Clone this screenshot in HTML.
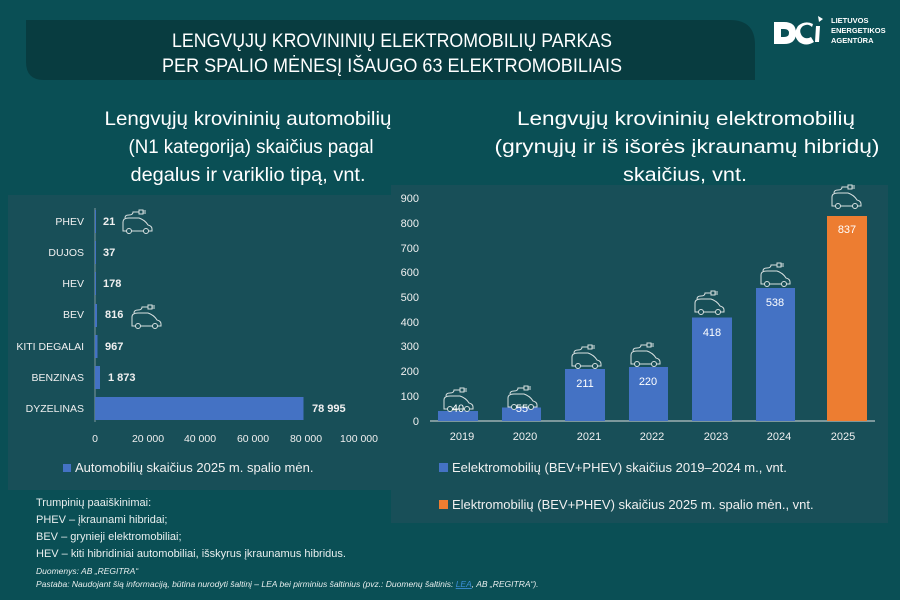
<!DOCTYPE html>
<html><head><meta charset="utf-8"><style>
body{margin:0;background:#0a4f55;}
svg{display:block;font-family:"Liberation Sans",sans-serif;}
</style></head><body>
<svg width="900" height="600" viewBox="0 0 900 600" xmlns="http://www.w3.org/2000/svg">
<defs>
<g id="car" fill="none" stroke="#d8e0e0" stroke-width="1">
<path d="M2 19 L2 10 Q2 6 8 6 L18 6 Q24 8 27 13 Q31 14 31 17 L31 19 Z"/>
<circle cx="8" cy="19" r="2.5" fill="#184f58"/><circle cx="25" cy="19" r="2.5" fill="#184f58"/>
<path d="M4 6 Q4 3 8 3 Q12 3 12 0 L18 0"/><rect x="18" y="-2" width="4" height="4"/><path d="M22 -1 L25 -1 M22 1 L25 1"/>
</g>
</defs>
<rect width="900" height="600" fill="#0a4f55"/>
<path d="M26 20 H730 Q755 20 755 45 V80 H44 Q26 80 26 62 Z" fill="#083c40"/>
<g fill="#fff" font-size="19" text-anchor="middle">
<text x="392" y="47" textLength="440" lengthAdjust="spacingAndGlyphs">LENGVŲJŲ KROVININIŲ ELEKTROMOBILIŲ PARKAS</text>
<text x="392" y="72" textLength="460" lengthAdjust="spacingAndGlyphs">PER SPALIO MĖNESĮ IŠAUGO 63 ELEKTROMOBILIAIS</text>
</g>
<g fill="#fff">
<path d="M774 22 h10 q12 0 12 11 q0 11 -12 11 h-10 z M781 29 v8 h3 q5 0 5 -4 q0 -4 -5 -4z" fill-rule="evenodd"/>
<path d="M812 27 q-4 -4 -9 -1 q-5 4 -1 10 q4 4 9 1 l3 5 q-8 5 -15 0 q-7 -7 -1 -16 q7 -6 15 -2 z"/>
<path d="M816 26 l4 0 l-1 16 l-4 0z"/><path d="M818 16 l5 3 l-4 3z"/>
<g font-size="7.5" font-weight="bold"><text x="831" y="23">LIETUVOS</text><text x="831" y="33">ENERGETIKOS</text><text x="831" y="43">AGENTŪRA</text></g>
</g>
<g fill="#fff" font-size="19.5" text-anchor="middle">
<text x="248" y="125" textLength="287" lengthAdjust="spacingAndGlyphs">Lengvųjų krovininių automobilių</text>
<text x="251" y="153" textLength="245" lengthAdjust="spacingAndGlyphs">(N1 kategorija) skaičius pagal</text>
<text x="248" y="181" textLength="235" lengthAdjust="spacingAndGlyphs">degalus ir variklio tipą, vnt.</text>
<text x="686" y="125" textLength="338" lengthAdjust="spacingAndGlyphs">Lengvųjų krovininių elektromobilių</text>
<text x="687" y="153" textLength="385" lengthAdjust="spacingAndGlyphs">(grynųjų ir iš išorės įkraunamų hibridų)</text>
<text x="685" y="181" textLength="124" lengthAdjust="spacingAndGlyphs">skaičius, vnt.</text>
</g>
<rect x="8" y="195" width="383" height="295" fill="#184f58"/>
<rect x="391" y="185" width="497" height="338" fill="#184f58"/>
<line x1="95" y1="208" x2="95" y2="422" stroke="#7f9aa0" stroke-width="1"/>
<g fill="#4472c4">
<rect x="95" y="210" width="1" height="23"/><rect x="95" y="241" width="1" height="23"/><rect x="95" y="272" width="1" height="23"/>
<rect x="95" y="304" width="2" height="23"/><rect x="95" y="335" width="2.5" height="23"/><rect x="95" y="366" width="5" height="23"/>
<rect x="95" y="397" width="208.5" height="23"/>
</g>
<g fill="#f0f0f0" font-size="10.5" text-anchor="end">
<text x="84" y="225">PHEV</text><text x="84" y="256">DUJOS</text><text x="84" y="287">HEV</text><text x="84" y="318">BEV</text>
<text x="84" y="350">KITI DEGALAI</text><text x="84" y="381">BENZINAS</text><text x="84" y="412">DYZELINAS</text>
</g>
<g fill="#f0f0f0" font-size="11" font-weight="bold">
<text x="103" y="225">21</text><text x="103" y="256">37</text><text x="103" y="287">178</text><text x="105" y="318">816</text>
<text x="105" y="350">967</text><text x="108" y="381">1 873</text><text x="312" y="412">78 995</text>
</g>
<use href="#car" x="121" y="212"/><use href="#car" x="130" y="307"/>
<g fill="#f0f0f0" font-size="10.5" text-anchor="middle">
<text x="95" y="442">0</text><text x="148" y="442">20 000</text><text x="200" y="442">40 000</text><text x="253" y="442">60 000</text><text x="306" y="442">80 000</text><text x="359" y="442">100 000</text>
</g>
<rect x="63" y="464" width="8" height="8" fill="#4472c4"/>
<text x="75" y="472" fill="#f0f0f0" font-size="13">Automobilių skaičius 2025 m. spalio mėn.</text>
<line x1="430" y1="421" x2="875" y2="421" stroke="#e0e0e0" stroke-width="1"/>
<g fill="#f0f0f0" font-size="11" text-anchor="end">
<text x="419" y="425">0</text><text x="419" y="400">100</text><text x="419" y="375">200</text><text x="419" y="350">300</text><text x="419" y="326">400</text>
<text x="419" y="301">500</text><text x="419" y="276">600</text><text x="419" y="252">700</text><text x="419" y="227">800</text><text x="419" y="202">900</text>
</g>
<g fill="#4472c4">
<rect x="438" y="411" width="40" height="10"/><rect x="502" y="407.5" width="39" height="13.5"/>
<rect x="565" y="369" width="40" height="52"/><rect x="629" y="367" width="39" height="54"/>
<rect x="692" y="317.5" width="40" height="103.5"/><rect x="756" y="288" width="39" height="133"/>
</g>
<rect x="827" y="216" width="40" height="205" fill="#ed7d31"/>
<use href="#car" x="442" y="390"/><use href="#car" x="506" y="388"/><use href="#car" x="570" y="347"/><use href="#car" x="629" y="345"/>
<use href="#car" x="693" y="293"/><use href="#car" x="759" y="265"/><use href="#car" x="830" y="187"/>
<g fill="#fff" font-size="11" text-anchor="middle">
<text x="458" y="412">40</text><text x="522" y="412">55</text><text x="585" y="387">211</text><text x="648" y="385">220</text>
<text x="712" y="336">418</text><text x="775" y="306">538</text><text x="847" y="233">837</text>
</g>
<g fill="#f0f0f0" font-size="11" text-anchor="middle">
<text x="462" y="440">2019</text><text x="525" y="440">2020</text><text x="589" y="440">2021</text><text x="652" y="440">2022</text>
<text x="716" y="440">2023</text><text x="779" y="440">2024</text><text x="843" y="440">2025</text>
</g>
<rect x="439" y="463" width="9" height="9" fill="#4472c4"/>
<text x="452" y="472" fill="#f0f0f0" font-size="13">Eelektromobilių (BEV+PHEV) skaičius 2019–2024 m., vnt.</text>
<rect x="439" y="500" width="9" height="9" fill="#ed7d31"/>
<text x="452" y="509" fill="#f0f0f0" font-size="13">Elektromobilių (BEV+PHEV) skaičius 2025 m. spalio mėn., vnt.</text>
<g fill="#e8eeee" font-size="11">
<text x="36" y="506">Trumpinių paaiškinimai:</text>
<text x="36" y="523">PHEV – įkraunami hibridai;</text>
<text x="36" y="540">BEV – grynieji elektromobiliai;</text>
<text x="36" y="557">HEV – kiti hibridiniai automobiliai, išskyrus įkraunamus hibridus.</text>
</g>
<g fill="#e8eeee" font-size="8.5" font-style="italic">
<text x="36" y="574">Duomenys: AB „REGITRA“</text>
<text x="36" y="587">Pastaba: Naudojant šią informaciją, būtina nurodyti šaltinį – LEA bei pirminius šaltinius (pvz.: Duomenų šaltinis: <tspan fill="#3b8fd8" text-decoration="underline">LEA</tspan>, AB „REGITRA“).</text>
</g>
</svg>
</body></html>
